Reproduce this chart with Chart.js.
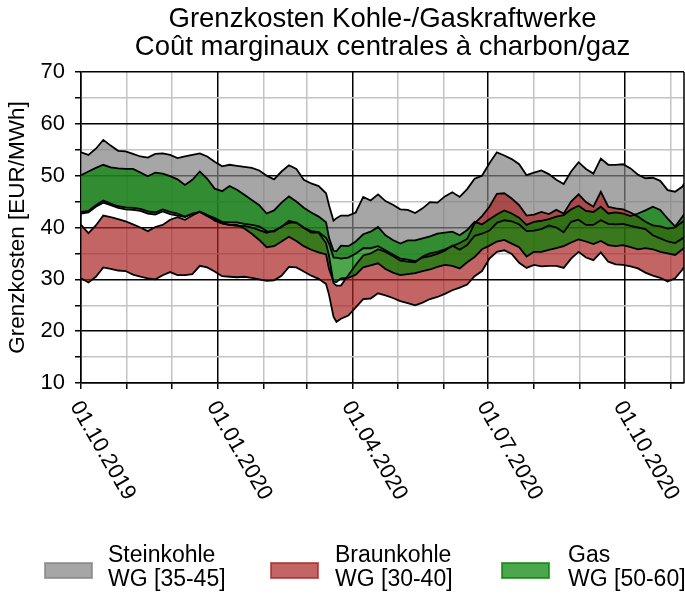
<!DOCTYPE html>
<html><head><meta charset="utf-8">
<script src="https://cdn.jsdelivr.net/npm/chart.js@4/dist/chart.umd.min.js"></script>
<style>html,body{margin:0;padding:0;background:#fff}#wrap{width:685px;height:594px}</style>
</head><body><div id="wrap"><canvas id="c" width="685" height="594"></canvas></div>
<script>
// days since 01.10.2019
const days = [0,5,10,15,20,25,30,35,40,45,50,55,60,65,70,75,80,85,90,95,100,105,110,115,120,125,130,135,140,145,150,155,160,165,167,170,172,175,180,185,190,195,200,205,210,215,220,225,230,235,240,245,250,255,260,265,270,275,280,285,290,295,300,305,310,315,320,325,330,335,340,345,350,355,360,365,370,375,380,385,390,395,400,405,406];
const steinHigh = [54.5,54.0,55.2,56.9,55.8,54.8,54.7,54.2,53.7,53.5,54.2,54.3,54.0,53.4,53.7,54.0,54.3,53.7,52.7,51.8,52.1,51.9,51.7,51.5,51.0,50.0,49.3,50.8,52.0,51.3,49.2,48.5,48.0,46.6,44.3,41.3,41.8,42.3,42.3,42.9,45.9,45.2,46.4,45.1,44.4,43.5,43.4,42.8,43.7,44.9,44.8,46.0,46.8,45.9,47.4,49.4,50.0,52.4,54.5,53.9,53.2,52.2,50.1,50.6,51.0,50.3,49.2,48.4,50.8,52.6,51.3,50.4,53.3,52.1,52.1,52.2,51.4,50.2,49.5,49.6,49.0,47.2,46.9,47.9,48.5];
const steinLow = [43.0,43.2,44.3,45.2,44.6,44.1,43.9,43.8,43.6,43.1,42.9,43.5,43.0,42.7,42.1,42.7,43.0,42.4,41.8,41.1,41.0,41.0,40.7,40.5,40.2,39.3,39.2,40.2,40.9,41.0,40.0,39.3,39.1,38.0,36.9,34.2,34.2,34.0,34.2,35.0,36.0,36.0,36.4,35.6,34.8,34.0,33.8,33.5,34.2,34.5,34.9,35.5,36.5,35.7,36.6,38.4,38.8,39.4,40.9,41.4,41.2,40.6,39.3,39.4,39.7,40.4,40.0,39.1,41.1,41.5,40.5,40.5,41.4,40.7,40.6,40.7,40.3,40.0,39.7,38.5,37.9,37.3,37.0,37.9,38.1];
const braunHigh = [40.5,38.9,40.4,42.3,42.0,41.6,41.2,40.6,40.0,39.3,40.1,40.5,41.5,42.0,41.5,42.3,43.1,42.4,41.3,40.8,40.5,40.3,40.3,40.0,39.5,39.0,39.4,40.1,41.3,40.9,39.9,39.0,39.0,37.0,34.5,29.3,28.8,28.8,30.8,32.8,34.6,35.0,35.8,35.3,34.5,33.6,33.4,33.3,34.4,35.0,35.3,35.8,36.4,37.0,37.8,40.8,42.2,44.0,46.5,46.6,45.6,44.3,42.3,42.5,43.0,42.6,43.4,42.7,45.0,46.4,44.9,44.0,46.9,44.0,43.7,43.5,42.9,42.1,41.1,40.4,40.2,39.8,40.0,41.1,41.4];
const braunLow = [30.2,29.4,30.5,32.3,32.0,31.7,31.6,30.9,30.5,30.2,30.0,30.8,31.4,30.8,30.8,31.0,32.6,32.3,31.5,30.6,30.5,30.4,30.5,30.3,30.0,29.7,29.8,30.7,32.4,32.3,31.5,30.7,30.1,29.1,27.0,22.8,21.8,22.4,23.0,24.6,26.2,26.3,27.3,26.9,26.4,25.8,25.4,25.0,25.5,26.2,26.6,27.2,27.9,28.4,29.0,30.6,31.6,34.0,35.3,35.6,34.9,33.2,32.2,32.8,32.5,32.6,32.6,32.2,34.0,35.3,34.2,33.7,35.2,33.4,32.9,32.8,32.5,32.1,31.3,30.7,30.3,29.6,30.2,31.9,32.4];
const gasHigh = [50.1,50.8,51.5,52.1,51.6,51.4,51.3,51.3,50.6,49.9,50.6,50.4,49.9,49.3,48.2,49.2,50.8,49.4,47.5,47.0,48.0,47.3,46.3,45.3,44.3,42.7,43.3,44.8,46.0,45.0,43.8,42.9,42.1,41.0,38.0,35.5,35.4,36.5,36.4,37.3,38.7,39.2,40.1,38.5,37.6,36.9,37.5,37.5,37.9,38.3,38.8,39.0,39.2,38.5,39.5,41.1,40.6,41.6,42.5,43.3,42.7,41.9,40.5,41.1,41.3,41.6,42.1,42.4,43.5,44.2,43.2,43.0,44.0,42.7,42.9,42.7,42.2,42.7,43.3,44.0,43.4,41.7,40.2,42.1,42.5];
const gasLow = [42.7,42.9,44.0,44.8,44.3,43.8,43.5,43.4,43.2,42.7,42.5,43.1,42.6,42.3,42.0,42.6,43.0,42.2,41.5,40.8,40.5,40.5,39.8,38.8,37.6,36.2,36.4,37.3,38.2,37.4,36.4,35.7,35.2,34.8,32.0,29.6,29.5,30.2,30.3,30.9,32.3,32.7,33.1,32.0,31.3,30.8,31.0,31.2,31.6,31.9,32.4,32.8,32.6,32.1,33.3,34.3,35.8,36.5,37.3,37.6,36.9,36.2,34.4,35.3,35.3,35.7,36.0,36.4,37.1,37.7,37.3,36.8,37.4,36.6,36.4,36.6,36.2,35.8,36.0,35.8,35.3,35.0,34.7,35.8,36.1];

const monthTicks = [0,31,61,92,123,152,183,213,244,274,305,336,366,397];
const majorTicks = [0,92,183,274,366];
const xTickLabels = ['01.10.2019','01.01.2020','01.04.2020','01.07.2020','01.10.2020'];
const seriesNames = ['Steinkohle','Braunkohle','Gas'];
const seriesRanges = ['WG [35-45]','WG [30-40]','WG [50-60]'];
const titleLines = ['Grenzkosten Kohle-/Gaskraftwerke','Coût marginaux centrales à charbon/gaz'];
const yTitle = 'Grenzkosten [EUR/MWh]';

const FONT = "'Liberation Sans', Arial, sans-serif";
const C_STEIN = 'rgba(128,128,128,0.7)';
const C_BRAUN = 'rgba(170,35,35,0.7)';
const C_GAS = 'rgba(0,128,0,0.7)';
const legendColors = [C_STEIN, C_BRAUN, C_GAS];

function pts(arr){ return days.map((d,i)=>({x:d,y:arr[i]})); }
function ds(arr, fill, bg){
  return {data: pts(arr), borderColor:'#000', borderWidth:1.8, pointRadius:0, tension:0, fill:fill, backgroundColor:bg};
}

const decor = {
  id:'decor',
  afterDraw(chart){
    const {ctx, chartArea:a, scales:{x}} = chart;
    ctx.save();
    ctx.strokeStyle='#000'; ctx.lineWidth=1.5;
    ctx.beginPath(); ctx.moveTo(a.right, a.top); ctx.lineTo(a.right, a.bottom); ctx.stroke();
    ctx.fillStyle='#000';
    ctx.font = '22px ' + FONT;
    ctx.textAlign='left'; ctx.textBaseline='middle';
    majorTicks.forEach((d,i)=>{
      const px = x.getPixelForValue(d);
      ctx.save(); ctx.translate(px-6, a.bottom+20); ctx.rotate(Math.PI/3);
      ctx.fillText(xTickLabels[i],0,0); ctx.restore();
    });
    ctx.font = '23px ' + FONT;
    const boxX=[45,271,502], textX=[108,335,568];
    seriesNames.forEach((n,i)=>{
      ctx.fillStyle = legendColors[i];
      ctx.fillRect(boxX[i],563,47,15);
      ctx.strokeStyle = legendColors[i]; ctx.lineWidth=2;
      ctx.strokeRect(boxX[i],563,47,15);
      ctx.fillStyle='#000';
      ctx.fillText(n, textX[i], 556);
      ctx.fillText(seriesRanges[i], textX[i], 580);
    });
    ctx.restore();
  }
};

new Chart(document.getElementById('c'), {
  type:'line',
  data:{ datasets:[
    ds(gasHigh,'+1',C_GAS), ds(gasLow,false,C_GAS),
    ds(braunHigh,'+1',C_BRAUN), ds(braunLow,false,C_BRAUN),
    ds(steinHigh,'+1',C_STEIN), ds(steinLow,false,C_STEIN)
  ]},
  options:{
    responsive:false, animation:false, devicePixelRatio:1,
    layout:{padding:{left:0,right:1,top:0,bottom:0}},
    plugins:{
      legend:{display:false}, tooltip:{enabled:false},
      filler:{drawTime:'beforeDatasetsDraw', propagate:false},
      title:{display:true, fullSize:false, text:titleLines, color:'#000',
        font:{family:FONT,size:27.5,weight:'normal',lineHeight:1.0}, padding:{top:6,bottom:11}}
    },
    scales:{
      x:{type:'linear', min:0, max:406,
        afterBuildTicks:s=>{ s.ticks = monthTicks.map(v=>({value:v})); },
        afterFit:s=>{ s.height = 211; },
        ticks:{display:false},
        grid:{color:c=> (c.tick && majorTicks.includes(c.tick.value)) ? '#000' : '#c4c4c4', lineWidth:1.5,
          drawTicks:true, tickLength:6, tickColor:'#000', tickWidth:1.5},
        border:{display:true,color:'#000',width:1.5}},
      y:{min:10, max:70,
        afterFit:s=>{ s.width = 81; },
        ticks:{stepSize:5, autoSkip:false, callback:v=> v%10===0 ? String(v) : '', color:'#000',
          font:{family:FONT,size:22}, padding:10},
        grid:{color:c=> (c.tick && c.tick.value%10===0) ? '#000' : '#c4c4c4', lineWidth:1.5,
          tickLength:6, tickColor:'#000', tickWidth:1.5},
        border:{display:true,color:'#000',width:1.5},
        title:{display:true, text:yTitle, color:'#000', font:{family:FONT,size:22.5}, padding:{top:4,bottom:0}}}
    }
  },
  plugins:[decor]
});
</script></body></html>
